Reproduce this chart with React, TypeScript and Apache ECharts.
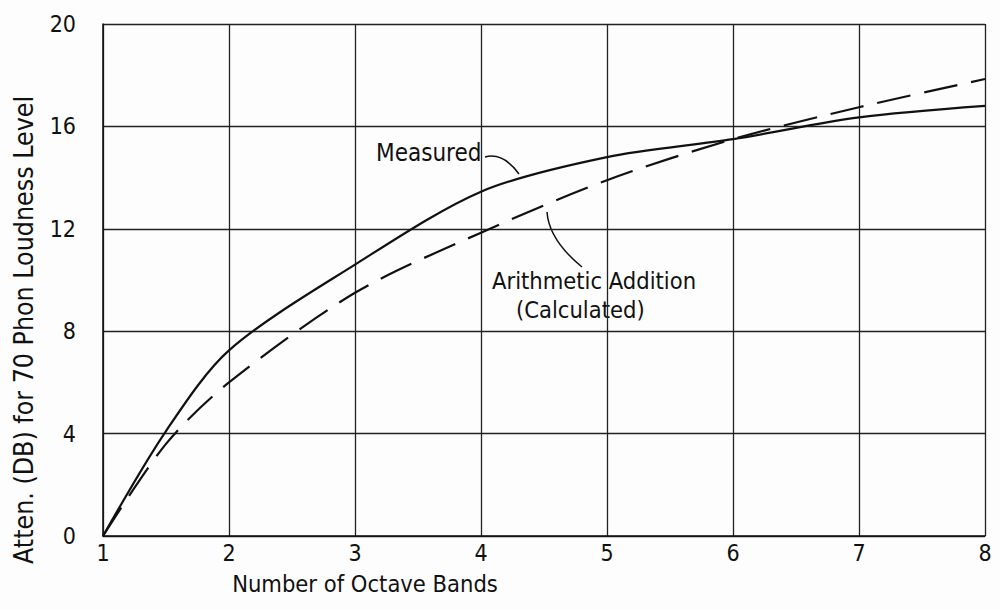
import React, { useEffect, useRef } from "react";
import * as echarts from "echarts";

// Number of octave bands (x) and attenuation in dB (y)
const bands = [1, 1.5, 2, 3, 4, 5, 6, 7, 8];
const measured = [0, 4.1, 7.25, 10.6, 13.45, 14.8, 15.5, 16.35, 16.8];
const calculated = [0, 3.6, 6.0, 9.5, 11.85, 13.9, 15.5, 16.75, 17.85];

const xTicks = [1, 2, 3, 4, 5, 6, 7, 8];
const yTicks = [0, 4, 8, 12, 16, 20];

const FONT = "'DejaVu Sans Condensed', 'Liberation Sans Narrow', 'DejaVu Sans', sans-serif";
const INK = "#111";

export default function App() {
  const ref = useRef<HTMLDivElement>(null);

  useEffect(() => {
    if (!ref.current) return;
    const chart = echarts.init(ref.current, null, { renderer: "svg" });
    const pts = (ys: number[]) => bands.map((x, i) => [x, ys[i]]);

    chart.setOption({
      animation: false,
      backgroundColor: "#fdfdfd",
      grid: { left: 103, right: 15, top: 24, bottom: 73 },
      xAxis: {
        type: "value",
        min: 1,
        max: 8,
        interval: 1,
        axisLine: { lineStyle: { color: INK, width: 1.5 } },
        axisTick: { show: false },
        axisLabel: {
          fontFamily: FONT,
          fontSize: 23,
          color: INK,
          margin: 5,
          formatter: (v: number) => (xTicks.includes(v) ? String(v) : ""),
        },
        splitLine: { show: true, lineStyle: { color: "#222", width: 1.3 } },
      },
      yAxis: {
        type: "value",
        min: 0,
        max: 20,
        interval: 4,
        axisLine: { lineStyle: { color: INK, width: 1.5 } },
        axisTick: { show: false },
        axisLabel: {
          fontFamily: FONT,
          fontSize: 23,
          color: INK,
          margin: 27,
          formatter: (v: number) => (yTicks.includes(v) ? String(v) : ""),
        },
        splitLine: { show: true, lineStyle: { color: "#222", width: 1.3 } },
      },
      series: [
        {
          name: "Measured",
          type: "line",
          data: pts(measured),
          smooth: 0.3,
          showSymbol: false,
          lineStyle: { color: INK, width: 2.2 },
        },
        {
          name: "Arithmetic Addition (Calculated)",
          type: "line",
          data: pts(calculated),
          smooth: 0.3,
          showSymbol: false,
          lineStyle: { color: INK, width: 2.2, type: [34, 14] },
        },
      ],
      graphic: [
        // axis titles
        {
          type: "text",
          x: 365,
          y: 584,
          style: {
            text: "Number of Octave Bands",
            font: `23.5px ${FONT}`,
            fill: INK,
            align: "center",
            verticalAlign: "middle",
          },
        },
        {
          type: "text",
          x: 23,
          y: 330,
          rotation: Math.PI / 2,
          style: {
            text: "Atten. (DB) for 70 Phon Loudness Level",
            font: `26.5px ${FONT}`,
            fill: INK,
            align: "center",
            verticalAlign: "middle",
          },
        },
        // curve annotations with leader lines
        {
          type: "text",
          left: 376,
          top: 141,
          style: { text: "Measured", font: `24px ${FONT}`, fill: INK, lineHeight: 24 },
        },
        {
          type: "bezierCurve",
          shape: { x1: 485, y1: 157, x2: 519, y2: 174, cpx1: 503, cpy1: 152 },
          style: { stroke: INK, lineWidth: 1.5, fill: "none" },
        },
        {
          type: "text",
          left: 492,
          top: 269,
          style: {
            text: "{a|Arithmetic Addition}\n{b|(Calculated)}",
            fill: INK,
            rich: {
              a: { fontFamily: FONT, fontSize: 23.5, lineHeight: 29, fill: INK },
              b: { fontFamily: FONT, fontSize: 23.5, lineHeight: 29, fill: INK, padding: [0, 0, 0, 24] },
            },
          },
        },
        {
          type: "bezierCurve",
          shape: { x1: 547, y1: 212, x2: 582, y2: 267, cpx1: 549, cpy1: 240 },
          style: { stroke: INK, lineWidth: 1.5, fill: "none" },
        },
      ],
    });

    return () => chart.dispose();
  }, []);

  return (
    <div
      ref={ref}
      style={{ position: "fixed", left: 0, top: 0, width: 1000, height: 609 }}
    />
  );
}
